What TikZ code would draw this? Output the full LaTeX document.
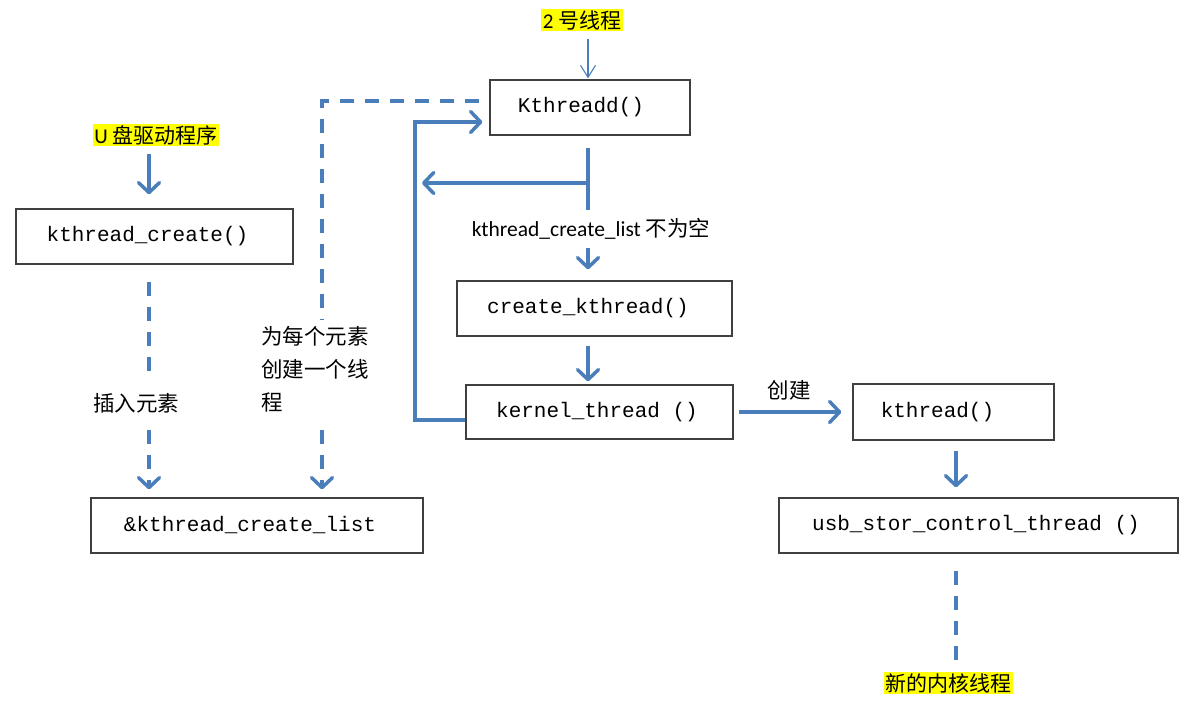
\documentclass[tikz,border=0pt]{standalone}
\usepackage{fontspec}
\setmainfont{Carlito}
\newfontfamily\cjk{Noto Sans CJK SC}
\newfontfamily\mono{Liberation Mono}
\usetikzlibrary{arrows.meta}
\definecolor{lblue}{HTML}{4A7EBB}
\definecolor{hl}{HTML}{FFFF00}
\definecolor{boxc}{HTML}{404040}
\tikzset{
  fbox/.style={draw=boxc, line width=1.3pt, inner sep=0pt, font=\mono\fontsize{21}{24}\selectfont},
  hlabel/.style={fill=hl, inner xsep=1.5pt, inner ysep=1pt, font=\cjk\fontsize{21}{24}\selectfont},
  plabel/.style={inner sep=0pt, font=\cjk\fontsize{21.5}{33}\selectfont},
  tip/.tip={Straight Barb[length=10pt,width=21pt,line width=3.5pt,round]},
  arr/.style={draw=lblue, line width=3.5pt, -tip},
  thinarr/.style={draw=lblue, line width=1.1pt, -{Straight Barb[length=12pt,width=15pt,line width=1.1pt]}},
  sline/.style={draw=lblue, line width=3.5pt},
  dline/.style={draw=lblue, line width=3.5pt, dash pattern=on 14pt off 11pt},
  darr/.style={draw=lblue, line width=3.5pt, dash pattern=on 14pt off 11pt, -tip},
}
\begin{document}
\begin{tikzpicture}[x=1pt,y=-1pt]
\useasboundingbox (0,0) rectangle (1187,705);
% boxes
\node[fbox, minimum width=200pt, minimum height=55pt] (kd) at (590,107.5) {Kthreadd()\hspace*{18pt}};
\node[fbox, minimum width=277pt, minimum height=55pt] (kc) at (154.5,236.5) {kthread\_create()\hspace*{14pt}};
\node[fbox, minimum width=275pt, minimum height=55pt] (ck) at (594.5,308.5) {create\_kthread()\hspace*{13pt}};
\node[fbox, minimum width=267pt, minimum height=54pt] (kt) at (599.5,412) {kernel\_thread ()\hspace*{5pt}};
\node[fbox, minimum width=201pt, minimum height=56pt] (kth) at (953.5,412) {kthread()\hspace*{32pt}};
\node[fbox, minimum width=399pt, minimum height=55pt] (usb) at (978.5,525.5) {usb\_stor\_control\_thread ()\hspace*{5pt}};
\node[fbox, minimum width=332pt, minimum height=55pt] (kl) at (257,525.5) {\&kthread\_create\_list\hspace*{14pt}};
% labels
\node[hlabel] (t2) at (582,20) {{\fontspec{Carlito}2} 号线程};
\node[hlabel] (tu) at (156,135) {{\fontspec{Carlito}U} 盘驱动程序};
\node[hlabel] (tn) at (948.5,683) {新的内核线程};
\node[plabel] (ins) at (136,403) {插入元素};
\node[plabel, align=left, anchor=north west] (per) at (261,326) {为每个元素\\创建一个线\\程};
\node[inner sep=0pt, font=\fontsize{21.5}{24}\selectfont] (cond) at (591,229) {kthread\_create\_list {\cjk 不为空}};
\node[plabel] (cj) at (789,390) {创建};
% helper coordinates
\coordinate (d1) at (322,320);
\coordinate (d2) at (322,430);
\coordinate (lp) at (415,122);
\coordinate (la) at (422,183);
\coordinate (ins1) at (149,372);
\coordinate (ins2) at (149,430);
\coordinate (vb) at (588,210);
\coordinate (hb) at (588,183);
\coordinate (ca) at (588,248);
% connectors
\draw[thinarr] ([xshift=-2pt,yshift=40pt]kd.north) -- ([xshift=-2pt,yshift=1pt]kd.north);
\draw[arr] ([xshift=-5.5pt,yshift=54pt]kc.north) -- ([xshift=-5.5pt,yshift=14pt]kc.north);
\draw[dline] ([xshift=-5.5pt,yshift=-17pt]kc.south) -- (ins1);
\draw[darr] (ins2) -- ([xshift=-108pt,yshift=8pt]kl.north);
\draw[dline] ([xshift=-10pt,yshift=6.5pt]kd.west) -| (d1);
\draw[darr] (d2) -- ([xshift=65pt,yshift=8pt]kl.north);
\draw[arr, shorten >=7pt] ([yshift=-8pt]kt.west) -| (lp) -- (lp -| kd.west);
\draw[sline] ([xshift=-2pt,yshift=-12pt]kd.south) -- (vb);
\draw[arr] (hb) -- (la);
\draw[arr] (ca) -- ([xshift=-6.5pt,yshift=11pt]ck.north);
\draw[arr] ([xshift=-6.5pt,yshift=-9pt]ck.south) -- ([xshift=-11.5pt,yshift=3pt]kt.north);
\draw[arr] ([xshift=5pt]kt.east) -- ([xshift=-11pt]kth.west);
\draw[arr] ([xshift=2.5pt,yshift=-10pt]kth.south) -- ([xshift=-22.5pt,yshift=10pt]usb.north);
\draw[dline] ([xshift=-22.5pt,yshift=-17pt]usb.south) -- ([xshift=7.5pt,yshift=10pt]tn.north);
\end{tikzpicture}
\end{document}
